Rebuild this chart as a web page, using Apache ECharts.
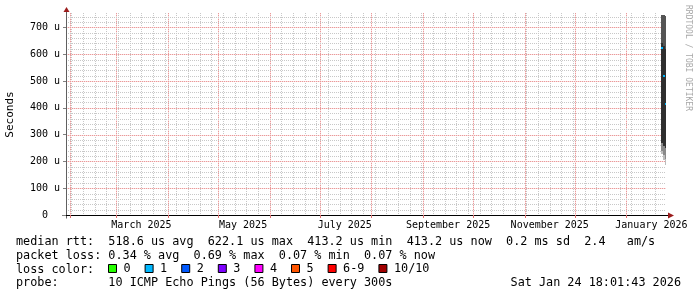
<!DOCTYPE html>
<html><head><meta charset="utf-8">
<script src="https://cdn.jsdelivr.net/npm/echarts@6/dist/echarts.min.js"></script>
<style>html,body{margin:0;padding:0;background:#fff}#c{width:697px;height:297px}</style>
</head><body><div id="c"></div>
<script>
// ---------- data ----------
const rangeStart = '2025-01-29T18:00:00Z';
const rangeEnd   = '2026-01-24T18:00:00Z';
const binStarts  = ['2026-01-22T00:00:00Z', '2026-01-23T00:00:00Z', '2026-01-24T00:00:00Z'];
const binEnds    = ['2026-01-23T00:00:00Z', '2026-01-24T00:00:00Z', '2026-01-24T18:00:00Z'];
const medianRtt  = [622.1, 520.5, 413.2];      // microseconds
const smokeMin   = [226, 205, 187];
const smokeLow   = [240, 225, 210];
const smokeMid   = [270, 258, 250];
const smokeHigh  = [640, 630, 620];
const smokeMax   = [746, 746, 742];
const yMax = 750;
const yTickValues = [0, 100, 200, 300, 400, 500, 600, 700];
const xLabelDates = ['2025-03-16', '2025-05-16', '2025-07-16', '2025-09-16', '2025-11-16', '2026-01-16'];
const xLabelTexts = ['March 2025', 'May 2025', 'July 2025', 'September 2025', 'November 2025', 'January 2026'];
const monthStarts = ['2025-02-01', '2025-03-01', '2025-04-01', '2025-05-01', '2025-06-01', '2025-07-01',
                     '2025-08-01', '2025-09-01', '2025-10-01', '2025-11-01', '2025-12-01', '2026-01-01'];
const firstSunday = '2025-02-02';
const lossNames  = ['0', '1', '2', '3', '4', '5', '6-9', '10/10'];
const lossColors = ['#26ff00', '#00b8ff', '#0059ff', '#7e00ff', '#ff00ff', '#ff5500', '#ff0000', '#a10000'];
const medianLossClass = '1';
const statLine1 = 'median rtt:  518.6 us avg  622.1 us max  413.2 us min  413.2 us now  0.2 ms sd  2.4   am/s';
const statLine2 = 'packet loss: 0.34 % avg  0.69 % max  0.07 % min  0.07 % now';
const lossLabel = 'loss color:';
const probeLine = 'probe:       10 ICMP Echo Pings (56 Bytes) every 300s';
const stampText = 'Sat Jan 24 18:01:43 2026';
const watermark = 'RRDTOOL / TOBI OETIKER';
const yName = 'Seconds';

// ---------- build ----------
const ms = s => Date.parse(s.length === 10 ? s + 'T00:00:00Z' : s);
const T0 = ms(rangeStart), T1 = ms(rangeEnd);
const DAY = 86400000;
const MONO = '"DejaVu Sans Mono", "Liberation Mono", monospace';
const smokeShades = ['#bcbcbc', '#8a8a8a', '#2f2f2f', '#555555'];

const smokeData = [];
binStarts.forEach((s, i) => {
  const a = ms(s), b = ms(binEnds[i]);
  const edges = [smokeMin[i], smokeLow[i], smokeMid[i], smokeHigh[i], smokeMax[i]];
  for (let k = 0; k < 4; k++) smokeData.push([a, b, edges[k], edges[k + 1], k]);
});
const medianData = binStarts.map((s, i) => [ms(s), ms(binEnds[i]), medianRtt[i]]);

const vGrid = [];
for (let t = ms(firstSunday); t < T1; t += 7 * DAY) vGrid.push([t, 0, 0]);
monthStarts.forEach(m => vGrid.push([ms(m), 0, 1]));
const hGrid = [];
for (let v = 20; v < yMax; v += 20) if (v % 100 !== 0) hGrid.push([T0, v, 0]);
yTickValues.filter(v => v > 0).forEach(v => hGrid.push([T0, v, 1]));
// [solid under-colour, dotted colour]
const gridUnder = [null, '#f9dede'];
const gridDots  = ['#c8c8c8', '#ea9a9a'];

const labelMap = {};
xLabelDates.forEach((d, i) => labelMap[ms(d)] = xLabelTexts[i]);

const chart = echarts.init(document.getElementById('c'), null, {renderer: 'canvas', width: 697, height: 297});

const gridLineGroup = (x1, y1, x2, y2, kind) => {
  const children = [];
  if (gridUnder[kind]) children.push({type: 'line', shape: {x1, y1, x2, y2}, style: {stroke: gridUnder[kind], lineWidth: 1}});
  children.push({type: 'line', shape: {x1, y1, x2, y2}, style: {stroke: gridDots[kind], lineWidth: 1, lineDash: [1, 1]}});
  return {type: 'group', children};
};

const lossSeries = lossNames.map((n, i) => {
  if (n === medianLossClass) {
    return {
      name: n, type: 'custom', z: 4, color: lossColors[i], itemStyle: {color: lossColors[i]},
      encode: {x: [0, 1], y: 2}, data: medianData,
      renderItem: (params, api) => {
        const a = api.coord([api.value(0), api.value(2)]);
        const b = api.coord([api.value(1), api.value(2)]);
        const x1 = Math.round(a[0]), x2 = Math.round(b[0]);
        return {type: 'rect', shape: {x: x1, y: Math.round(a[1]) - 1, width: Math.max(1, x2 - x1), height: 2},
                style: {fill: lossColors[i]}};
      }
    };
  }
  return {name: n, type: 'custom', color: lossColors[i], itemStyle: {color: lossColors[i]},
          data: [], renderItem: () => null};
});

chart.setOption({
  animation: false,
  backgroundColor: '#ffffff',
  textStyle: {fontFamily: MONO},
  grid: {left: 66, right: 31, top: 14, bottom: 82, containLabel: false, outerBoundsMode: 'none'},
  xAxis: {
    type: 'value', min: T0, max: T1, z: 6,
    axisLine: {show: true, onZero: false, lineStyle: {color: '#000', width: 1}},
    axisTick: {show: true, customValues: monthStarts.map(ms), length: 3, lineStyle: {color: '#e07070'}},
    axisLabel: {customValues: xLabelDates.map(ms), formatter: v => labelMap[v] || '', margin: 5,
                fontFamily: MONO, fontSize: 10, color: '#000'},
    splitLine: {show: false}
  },
  yAxis: {
    type: 'value', min: 0, max: yMax, z: 6,
    name: yName, nameLocation: 'middle', nameGap: 50,
    nameTextStyle: {fontFamily: MONO, fontSize: 11, color: '#000'},
    axisLine: {show: true, onZero: false, lineStyle: {color: '#606060', width: 1}},
    axisTick: {show: true, customValues: yTickValues, length: 3, lineStyle: {color: '#808080'}},
    axisLabel: {customValues: yTickValues, formatter: v => v === 0 ? '0  ' : v + ' u', margin: 6,
                fontFamily: MONO, fontSize: 10, color: '#000'},
    splitLine: {show: false}
  },
  legend: {
    data: lossNames, selectedMode: false, left: 108, top: 262.5, padding: 0,
    itemWidth: 8, itemHeight: 8, itemGap: 14, icon: 'rect',
    itemStyle: {borderColor: '#000', borderWidth: 1},
    textStyle: {fontFamily: MONO, fontSize: 11.8, color: '#000', padding: [0, 0, 0, 2]}
  },
  series: [
    {
      type: 'custom', z: 1, silent: true, encode: {x: 0, y: 1}, data: vGrid,
      renderItem: (params, api) => {
        const p = api.coord([api.value(0), 0]);
        const cs = params.coordSys;
        const x = Math.round(p[0]) + 0.5;
        return gridLineGroup(x, cs.y - 1, x, cs.y + cs.height, api.value(2));
      }
    },
    {
      type: 'custom', z: 1, silent: true, encode: {x: 0, y: 1}, data: hGrid,
      renderItem: (params, api) => {
        const p = api.coord([api.value(0), api.value(1)]);
        const cs = params.coordSys;
        const y = Math.round(p[1]) + 0.5;
        return gridLineGroup(cs.x, y, cs.x + cs.width, y, api.value(2));
      }
    },
    {
      type: 'custom', z: 3, silent: true, encode: {x: [0, 1], y: [2, 3]}, data: smokeData,
      renderItem: (params, api) => {
        const a = api.coord([api.value(0), api.value(3)]);
        const b = api.coord([api.value(1), api.value(2)]);
        const x1 = Math.round(a[0]), x2 = Math.round(b[0]);
        const y1 = Math.round(a[1]), y2 = Math.round(b[1]);
        return {type: 'rect', shape: {x: x1, y: y1, width: Math.max(1, x2 - x1), height: y2 - y1},
                style: {fill: smokeShades[api.value(4)]}};
      }
    }
  ].concat(lossSeries)
});

// decorations: arrows, texts
const pEnd = chart.convertToPixel({gridIndex: 0}, [T1, 0]);
const pTop = chart.convertToPixel({gridIndex: 0}, [T0, yMax]);
const pOrg = chart.convertToPixel({gridIndex: 0}, [T0, 0]);
const ax = Math.round(pOrg[0]) + 0.5, ay = Math.round(pOrg[1]) + 0.5;
const ex = Math.round(pEnd[0]), ty = Math.round(pTop[1]);
const txt = (x, y, text, extra) => ({
  type: 'text', x: x, y: y, silent: true,
  style: Object.assign({text: text, font: '11.8px ' + MONO, fill: '#000',
    align: 'left', textAlign: 'left', verticalAlign: 'middle', textVerticalAlign: 'middle'}, extra || {})
});
chart.setOption({
  graphic: [
    {type: 'line', silent: true, shape: {x1: ax - 4, y1: ay, x2: ax, y2: ay}, style: {stroke: '#000', lineWidth: 1}},
    {type: 'line', silent: true, shape: {x1: ex, y1: ay, x2: ex + 3, y2: ay}, style: {stroke: '#000', lineWidth: 1}},
    {type: 'polygon', silent: true, shape: {points: [[ex + 2, ay - 3], [ex + 8, ay], [ex + 2, ay + 3]]}, style: {fill: '#9b1c1c'}},
    {type: 'line', silent: true, shape: {x1: ax, y1: ay, x2: ax, y2: ay + 3}, style: {stroke: '#606060', lineWidth: 1}},
    {type: 'line', silent: true, shape: {x1: ax, y1: ty - 3, x2: ax, y2: ty}, style: {stroke: '#606060', lineWidth: 1}},
    {type: 'polygon', silent: true, shape: {points: [[ax - 3, ty - 2], [ax, ty - 7], [ax + 3, ty - 2]]}, style: {fill: '#9b1c1c'}},
    txt(16, 241.7, statLine1),
    txt(16, 255.7, statLine2),
    txt(16, 269.5, lossLabel),
    txt(16, 283.3, probeLine),
    txt(681, 283.3, stampText, {align: 'right', textAlign: 'right'}),
    {type: 'text', x: 688.5, y: 5, rotation: -Math.PI / 2, silent: true,
     style: {text: watermark, font: '8px ' + MONO, fill: '#a8a8a8', align: 'left', textAlign: 'left',
             verticalAlign: 'middle', textVerticalAlign: 'middle'}}
  ]
});
</script></body></html>
